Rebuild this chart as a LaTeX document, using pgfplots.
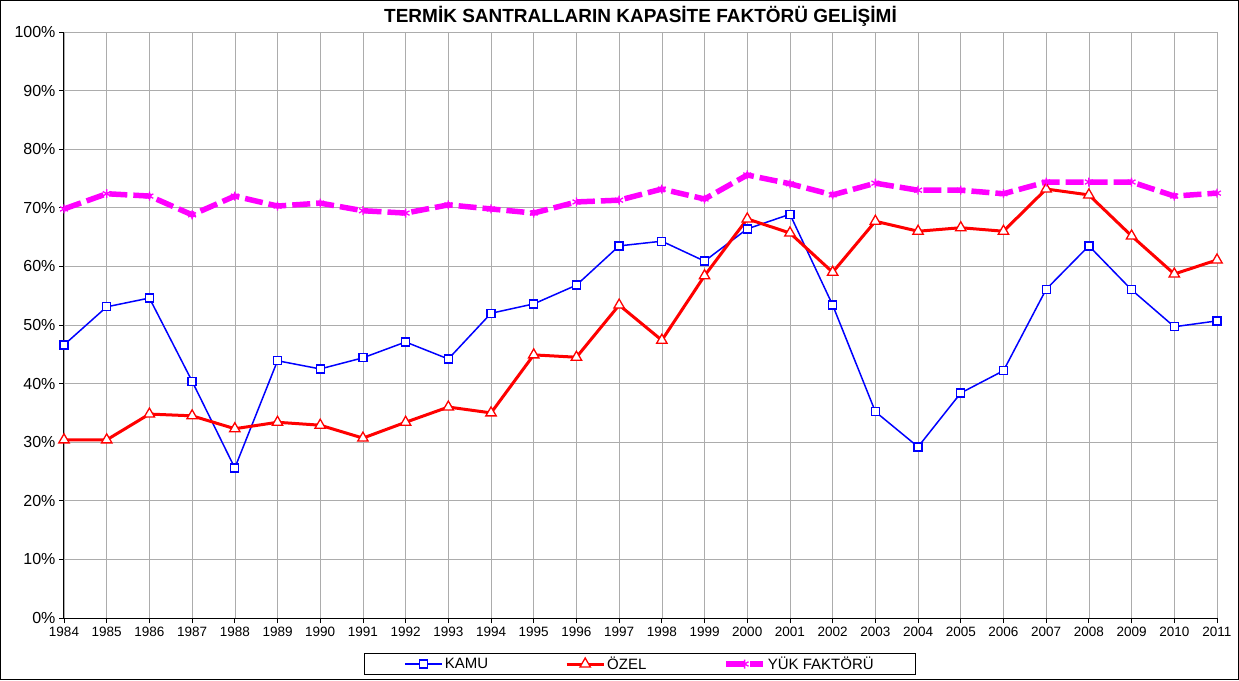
\documentclass[border=0pt]{standalone}
\usepackage{pgfplots}
\pgfplotsset{compat=1.18}
\usepackage{fontspec}
\setmainfont{Liberation Sans}
\definecolor{kblue}{RGB}{0,0,255}
\definecolor{kred}{RGB}{255,0,0}
\definecolor{kmag}{RGB}{255,0,255}
\begin{document}
\begin{tikzpicture}
\path[use as bounding box] (-64pt,-62pt) rectangle (1175pt,618pt);
\draw[black, line width=1.5pt] (-63.25pt,-61.25pt) rectangle (1174.25pt,617.25pt);
\begin{axis}[
  at={(0pt,0pt)}, anchor=south west,
  scale only axis, width=1153pt, height=586pt,
  xmin=1984, xmax=2011, ymin=0, ymax=100,
  xtick={1984,1985,...,2011}, ytick={0,10,...,100},
  axis lines=left, axis line style={black, line width=1pt, -},
  tick style={black, line width=0.8pt},
  tick align=outside, major tick length=5pt,
  grid=major, grid style={gray!65, line width=0.6pt},
  /pgf/number format/assume math mode=true,
  /pgf/number format/1000 sep={},
  xticklabel style={font=\fontsize{13.5}{15}\selectfont, yshift=-1pt},
  yticklabel style={font=\fontsize{16}{18}\selectfont},
  yticklabel={\pgfmathprintnumber{\tick}\%},
  title={\bfseries TERMİK SANTRALLARIN KAPASİTE FAKTÖRÜ GELİŞİMİ},
  title style={font=\fontsize{19}{21}\selectfont, at={(0.5,1)}, anchor=base, yshift=3pt},
  legend columns=3,
  legend style={at={(0.4996,-0.0785)}, anchor=center, draw=black, line width=1pt,
    font=\fontsize{15}{17}\selectfont, inner xsep=40pt, inner ysep=1pt,
    /tikz/every even column/.append style={column sep=75pt}},
  legend image code/.code={\draw[mark repeat=2,mark phase=2,#1] plot coordinates {(0pt,0pt)(18.5pt,0pt)(37pt,0pt)};},
]
\addplot[color=kblue, line width=1.5pt, mark=square*, mark size=4pt, mark options={fill=white, draw=kblue, solid, line width=1.3pt}]
coordinates {
(1984,46.6)(1985,53.1)(1986,54.6)(1987,40.4)(1988,25.6)(1989,43.9)(1990,42.5)
(1991,44.4)(1992,47.1)(1993,44.2)(1994,52.0)(1995,53.6)(1996,56.8)(1997,63.5)
(1998,64.3)(1999,60.9)(2000,66.4)(2001,68.9)(2002,53.4)(2003,35.2)(2004,29.2)
(2005,38.4)(2006,42.2)(2007,56.1)(2008,63.5)(2009,56.0)(2010,49.7)(2011,50.7)};
\addlegendentry{KAMU}
\addplot[color=kred, line width=3pt, mark=triangle*, mark size=6pt, mark options={fill=white, draw=kred, solid, line width=1.3pt}]
coordinates {
(1984,30.4)(1985,30.4)(1986,34.8)(1987,34.5)(1988,32.3)(1989,33.4)(1990,32.9)
(1991,30.7)(1992,33.4)(1993,36.0)(1994,35.0)(1995,44.9)(1996,44.5)(1997,53.4)
(1998,47.4)(1999,58.4)(2000,68.1)(2001,65.7)(2002,59.0)(2003,67.7)(2004,66.0)
(2005,66.6)(2006,66.0)(2007,73.2)(2008,72.2)(2009,65.2)(2010,58.7)(2011,61.1)};
\addlegendentry{ÖZEL}
\addplot[color=kmag, line width=5.5pt, dash pattern=on 18pt off 6pt, mark=asterisk, mark size=4.5pt, mark options={solid, line width=1.3pt}]
coordinates {
(1984,69.8)(1985,72.4)(1986,72.0)(1987,68.8)(1988,72.0)(1989,70.3)(1990,70.8)
(1991,69.5)(1992,69.1)(1993,70.5)(1994,69.8)(1995,69.1)(1996,71.0)(1997,71.3)
(1998,73.2)(1999,71.5)(2000,75.6)(2001,74.1)(2002,72.2)(2003,74.2)(2004,73.0)
(2005,73.0)(2006,72.4)(2007,74.4)(2008,74.4)(2009,74.4)(2010,72.0)(2011,72.5)};
\addlegendentry{YÜK FAKTÖRÜ}
\end{axis}
\end{tikzpicture}
\end{document}
